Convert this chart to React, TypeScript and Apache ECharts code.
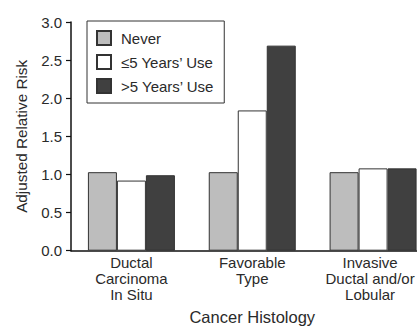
import React, { useEffect, useRef } from "react";
import * as echarts from "echarts";

const categories = ["Ductal\nCarcinoma\nIn Situ", "Favorable\nType", "Invasive\nDuctal and/or\nLobular"];
const seriesNames = ["Never", "≤5 Years’ Use", ">5 Years’ Use"];
const neverValues = [1.03, 1.03, 1.03];
const shortUseValues = [0.92, 1.84, 1.08];
const longUseValues = [0.99, 2.69, 1.08];
const yTicks = { min: 0, max: 3, interval: 0.5 };
const fills = ["#bdbdbd", "#ffffff", "#404040"];

const FONT = "'Liberation Sans', Arial, Helvetica, sans-serif";
const TEXT = "#2a2a2a";

export default function App() {
  const ref = useRef<HTMLDivElement>(null);
  useEffect(() => {
    if (!ref.current) return;
    const chart = echarts.init(ref.current, null, { renderer: "svg" });
    const data = [neverValues, shortUseValues, longUseValues];
    chart.setOption({
      animation: false,
      textStyle: { fontFamily: FONT, color: TEXT },
      grid: {
        left: 71,
        top: 22,
        bottom: 75.3,
        right: -16.5,
        containLabel: false,
        outerBoundsMode: "none",
      },
      legend: {
        orient: "vertical",
        left: 87,
        top: 21,
        padding: [9, 10, 9, 9],
        borderColor: "#333",
        borderWidth: 1,
        itemWidth: 14,
        itemHeight: 14,
        itemGap: 8,
        icon: "rect",
        selectedMode: false,
        textStyle: { fontSize: 15, color: TEXT, fontFamily: FONT, padding: [0, 0, 0, 5] },
        data: seriesNames,
      },
      xAxis: {
        type: "category",
        data: categories,
        name: "Cancer Histology",
        nameLocation: "middle",
        nameGap: 57.5,
        nameTextStyle: { fontSize: 16.5, color: TEXT, fontFamily: FONT },
        axisLine: { lineStyle: { color: "#111", width: 1.5 } },
        axisTick: { show: false },
        axisLabel: {
          fontSize: 15,
          color: TEXT,
          fontFamily: FONT,
          lineHeight: 16,
          margin: 4,
          interval: 0,
          formatter: (v: string, i: number) =>
            i === 2 ? v.split("\n").map((l) => `{s|${l}}`).join("\n") : v,
          rich: {
            s: { fontSize: 15, lineHeight: 16, color: TEXT, fontFamily: FONT, padding: [0, 6, 0, 0] },
          },
        },
      },
      yAxis: {
        type: "value",
        min: yTicks.min,
        max: yTicks.max,
        interval: yTicks.interval,
        name: "Adjusted Relative Risk",
        nameLocation: "middle",
        nameRotate: 90,
        nameGap: 42,
        nameTextStyle: { fontSize: 15.3, color: TEXT, fontFamily: FONT },
        axisLine: { show: true, lineStyle: { color: "#111", width: 1.5 } },
        axisTick: { show: true, length: 5, lineStyle: { color: "#111", width: 1.2 } },
        splitLine: { show: false },
        axisLabel: {
          fontSize: 15,
          color: TEXT,
          fontFamily: FONT,
          margin: 9,
          formatter: (v: number) => v.toFixed(1),
        },
      },
      series: seriesNames.map((name, i) => ({
        name,
        type: "bar",
        data: data[i],
        barWidth: 29,
        barGap: "0%",
        itemStyle: { color: fills[i], borderColor: "#333", borderWidth: 1 },
      })),
    });
    return () => chart.dispose();
  }, []);
  return (
    <div
      ref={ref}
      style={{ position: "absolute", left: 0, top: 0, width: 417, height: 326, background: "#fff" }}
    />
  );
}
